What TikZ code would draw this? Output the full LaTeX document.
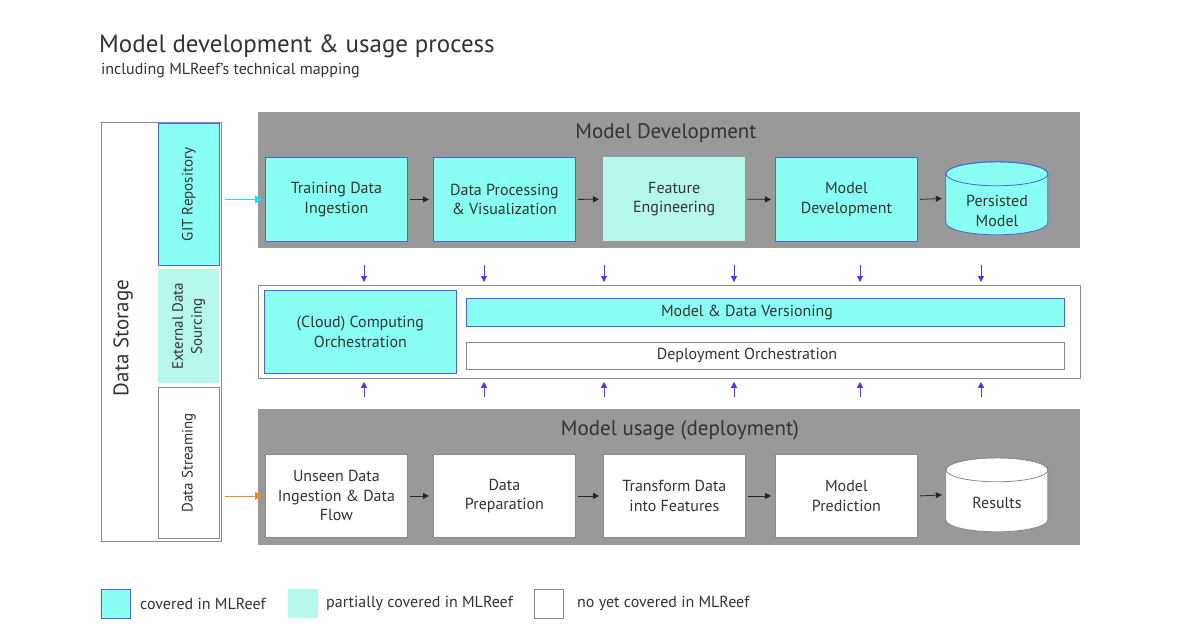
\documentclass[tikz,border=0pt]{standalone}
\usepackage{fontspec}
\setmainfont{PT Sans}
\usetikzlibrary{arrows.meta}
\definecolor{cy}{HTML}{88FFF2}
\definecolor{lcy}{HTML}{B6F8EC}
\definecolor{bl}{HTML}{4A62E4}
\definecolor{vio}{HTML}{5A32EC}
\definecolor{pan}{HTML}{999999}
\definecolor{txt}{HTML}{333333}
\definecolor{brd}{HTML}{8A8A8A}
\definecolor{orng}{HTML}{F28A1E}
\definecolor{cyarr}{HTML}{2ED8EE}
\tikzset{
  lbl/.style={text=txt, font=\fontsize{16}{19.5}\selectfont, align=center, inner sep=0pt},
  full/.style={fill=cy, draw=bl, line width=0.8pt},
  part/.style={fill=lcy, draw=none},
  none/.style={fill=white, draw=brd, line width=0.8pt},
  stepbox/.style={lbl, anchor=north west, minimum width=142pt, minimum height=84pt},
  panel/.style={fill=pan, draw=none, anchor=north west, inner sep=0pt},
  flow/.style={-{Triangle[length=6pt,width=6pt]}, line width=0.8pt, draw=black!85},
  varr/.style={-{Triangle[length=6pt,width=6pt]}, line width=0.8pt, draw=vio},
  sidearr/.style={-{Triangle[length=8pt,width=8pt]}, line width=0.8pt},
}
\begin{document}
\begin{tikzpicture}[x=1pt,y=-1pt]
\useasboundingbox[fill=white] (0,0) rectangle (1200,630);

% titles
\node[anchor=base west, inner sep=0pt, text=txt, font=\fontsize{25}{29}\selectfont] (title) at (99,52) {Model development \& usage process};
\node[anchor=base west, inner sep=0pt, text=txt, font=\fontsize{16}{19}\selectfont] (sub) at (101,74) {including MLReef's technical mapping};

% data storage column
\node[none, anchor=north west, minimum width=120pt, minimum height=419pt, inner sep=0pt] (ds) at (101,122) {};
\node[lbl, rotate=90, font=\fontsize{21}{24}\selectfont] (dslbl) at (123,338) {Data Storage};
\node[full, anchor=north west, minimum width=61pt, minimum height=142pt, inner sep=0pt] (git) at (158,123) {};
\node[lbl, rotate=90, font=\fontsize{15}{19}\selectfont] at (git.center) {GIT Repository};
\node[part, anchor=north west, minimum width=61pt, minimum height=114pt, inner sep=0pt] (ext) at (158,269) {};
\node[lbl, rotate=90, font=\fontsize{15}{19}\selectfont] at (ext.center) {External Data\\Sourcing};
\node[none, anchor=north west, minimum width=61pt, minimum height=151pt, inner sep=0pt] (strm) at (158,387) {};
\node[lbl, rotate=90, font=\fontsize{15}{19}\selectfont] at (strm.center) {Data Streaming};

% model development panel
\node[panel, minimum width=822pt, minimum height=136pt] (dev) at (258,112) {};
\node[lbl, font=\fontsize{21}{24}\selectfont] (devt) at (666,133) {Model Development};
\node[stepbox, full] (d1) at (265,157) {Training Data\\Ingestion};
\node[stepbox, full] (d2) at (433,157) {Data Processing\\\& Visualization};
\node[stepbox, part] (d3) at (603,157) {Feature\\Engineering};
\node[stepbox, full] (d4) at (775,157) {Model\\Development};
\node[lbl, minimum width=102pt, minimum height=73pt] (d5) at (997,198.5) {};
\path[full] (d5.north west) ++(0,12) -- ++(0,49) arc[start angle=180, end angle=0, x radius=51, y radius=12] -- ++(0,-49) arc[start angle=0, end angle=-180, x radius=51, y radius=12] -- cycle;
\draw[bl, line width=0.8pt] (d5.north) ++(0,12) ellipse [x radius=51, y radius=12];
\node[lbl] at (997,211) {Persisted\\Model};

% model usage panel
\node[panel, minimum width=822pt, minimum height=136pt] (use) at (258,409) {};
\node[lbl, font=\fontsize{21}{24}\selectfont] (uset) at (680,430) {Model usage (deployment)};
\node[stepbox, none, minimum height=83pt] (u1) at (265,454) {Unseen Data\\Ingestion \& Data\\Flow};
\node[stepbox, none, minimum height=83pt] (u2) at (433,454) {Data\\Preparation};
\node[stepbox, none, minimum height=83pt] (u3) at (603,454) {Transform Data\\into Features};
\node[stepbox, none, minimum height=83pt] (u4) at (775,454) {Model\\Prediction};
\node[lbl, minimum width=102pt, minimum height=74pt] (u5) at (997,495) {};
\path[none] (u5.north west) ++(0,12) -- ++(0,50) arc[start angle=180, end angle=0, x radius=51, y radius=12] -- ++(0,-50) arc[start angle=0, end angle=-180, x radius=51, y radius=12] -- cycle;
\draw[brd, line width=0.8pt] (u5.north) ++(0,12) ellipse [x radius=51, y radius=12];
\node[lbl] at (997,503) {Results};

% middle panel
\node[none, anchor=north west, minimum width=822pt, minimum height=93pt, inner sep=0pt] (mid) at (258,285) {};
\node[lbl, full, anchor=north west, minimum width=192pt, minimum height=83pt] (cco) at (264,290) {(Cloud) Computing\\Orchestration};
\node[lbl, full, anchor=north west, minimum width=598pt, minimum height=28pt] (mdv) at (466,298) {};
\node[lbl] at (747,312) {Model \& Data Versioning};
\node[lbl, none, anchor=north west, minimum width=598pt, minimum height=27pt] (dpo) at (466,342) {};
\node[lbl] at (747,355.5) {Deployment Orchestration};

% flow arrows
\draw[flow] (d1.east) ++(2,0) -- ([xshift=-4pt]d2.west);
\draw[flow] (d2.east) ++(2,0) -- ([xshift=-4pt]d3.west);
\draw[flow] (d3.east) ++(2,0) -- ([xshift=-4pt]d4.west);
\draw[flow] (d4.east) ++(2,0) -- ([xshift=-4pt]d5.west);
\draw[flow] (u1.east) ++(2,0) -- ([xshift=-4pt]u2.west);
\draw[flow] (u2.east) ++(2,0) -- ([xshift=-4pt]u3.west);
\draw[flow] (u3.east) ++(2,0) -- ([xshift=-4pt]u4.west);
\draw[flow] (u4.east) ++(2,0) -- ([xshift=-4pt]u5.west);

% side arrows
\draw[sidearr, cyarr] (git.east |- d1.west) ++(5,0) -- ([xshift=-2pt]d1.west);
\draw[sidearr, orng] (strm.east |- u1.west) ++(5,0) -- ([xshift=-2pt]u1.west);

% vertical arrows
\foreach \x in {364,484,604,734,860,981}{
  \coordinate (t\x) at (\x,265);
  \coordinate (b\x) at (\x,397);
  \draw[varr] (t\x) -- ([yshift=3pt]t\x |- mid.north);
  \draw[varr] (b\x) -- ([yshift=-3pt]b\x |- mid.south);
}

% legend
\node[full, anchor=north west, minimum width=29pt, minimum height=29pt, inner sep=0pt] (l1) at (101,589) {};
\node[lbl, anchor=west] at (140,603.5) {covered in MLReef};
\node[part, anchor=north west, minimum width=30pt, minimum height=29pt, inner sep=0pt] (l2) at (288,589) {};
\node[lbl, anchor=west] at (326,603.5) {partially covered in MLReef};
\node[none, anchor=north west, minimum width=29pt, minimum height=29pt, inner sep=0pt] (l3) at (534,589) {};
\node[lbl, anchor=west] at (577,603.5) {no yet covered in MLReef};
\end{tikzpicture}
\end{document}
